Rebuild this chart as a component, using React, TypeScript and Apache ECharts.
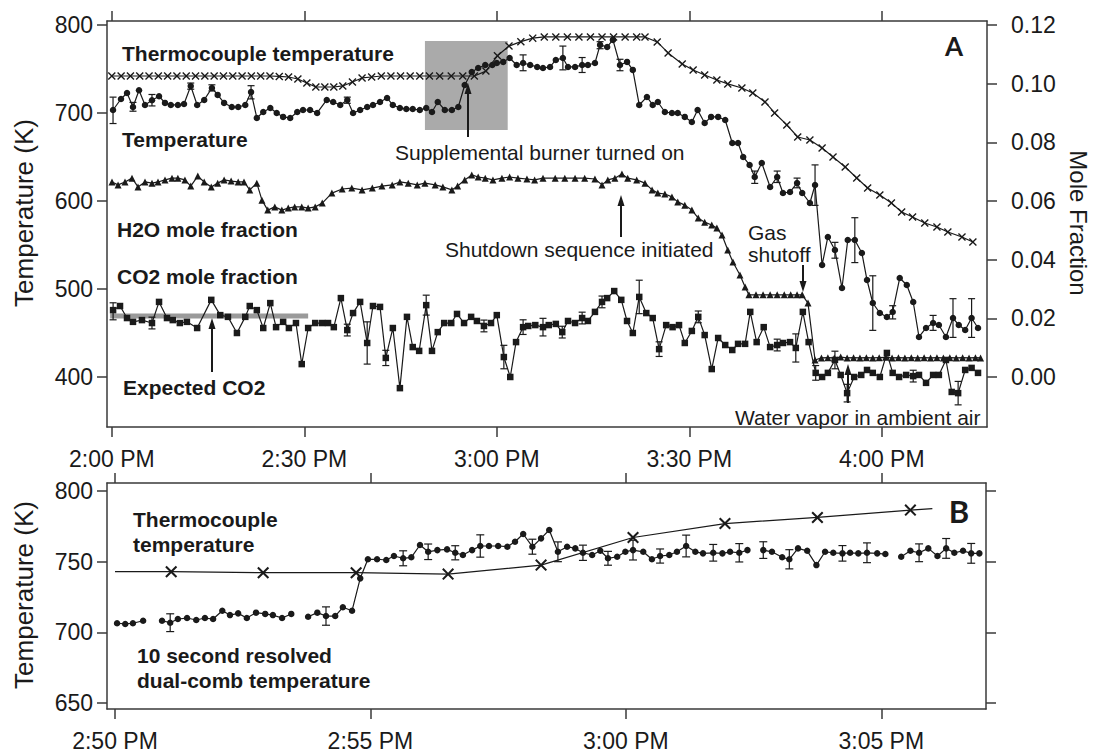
import React, { useEffect, useRef } from "react";
import * as echarts from "echarts";

// ---------- tick values ----------
const xTicksA = [0, 30, 60, 90, 120]; // minutes after 2:00 PM
const yTicksALeft = [400, 500, 600, 700, 800];
const yTicksARight = [0, 0.02, 0.04, 0.06, 0.08, 0.1, 0.12];
const xTicksB = [0, 5, 10, 15]; // minutes after 2:50 PM
const yTicksB = [650, 700, 750, 800];

// ---------- panel A data (t = minutes after 2:00 PM) ----------
const thermoA: number[][] = [
  [0, 742], [1.45, 742], [2.9, 742], [4.35, 742], [5.8, 742], [7.25, 742], [8.7, 742], [10.15, 742],
  [11.6, 742], [13.05, 742], [14.5, 742], [15.95, 742], [17.4, 742], [18.85, 742], [20.3, 742],
  [21.75, 742], [23.2, 742], [24.65, 742], [26.1, 741.5], [27.55, 740.9], [29.0, 738.6], [30.4, 734],
  [31.8, 729.5], [33.2, 729.5], [34.6, 729.5], [36.0, 730.7], [37.5, 735.2], [39.0, 739.8],
  [40.5, 740.9], [42, 742], [43.5, 742], [45, 742], [46.5, 742], [48, 742], [49.5, 742], [51.1, 742],
  [52.9, 742], [54.7, 742], [56.5, 742], [58.3, 747.6], [60.1, 765], [61.9, 776], [63.75, 781],
  [65.6, 785], [67.4, 786.4], [69.2, 786.4], [71.0, 786.4], [72.8, 786.4], [74.6, 786.4], [76.4, 786.4],
  [78.2, 786.4], [80.0, 786.4], [81.8, 786.4], [83.1, 786.4], [85.0, 780.7], [86.7, 768.2],
  [88.9, 755.7], [90.6, 748.9], [92.4, 743.2], [94.3, 737.5], [96.0, 733], [98.2, 728.4],
  [99.9, 722.7], [101.8, 712.5], [103.3, 700], [105.2, 686.4], [106.9, 672.7], [108.8, 669.3],
  [110.7, 660.2], [112.4, 650], [114.3, 638.6], [116.1, 626.1], [117.8, 614.8], [119.7, 606.8],
  [121.5, 597.7], [123.1, 587.5], [124.8, 581.8], [126.7, 575], [128.6, 570.5], [130.3, 564.8],
  [132.5, 559.1], [134.2, 553.4],
];

const tempA: number[][] = [
  [0.19, 703.4], [1.43, 715.9], [2.37, 722.7], [3.3, 706.8], [4.24, 725.8], [5.17, 709.1], [6.26, 714.4],
  [7.36, 719.0], [8.29, 711.4], [9.2, 709.1], [10.3, 709.1], [11.25, 710.2], [12.3, 730.7], [13.3, 709.1],
  [14.4, 714.8], [15.6, 728.4], [16.5, 720.5], [17.5, 711.4], [18.7, 706.8], [19.7, 706.8], [20.8, 709.1],
  [21.7, 723.7], [22.6, 694.3], [23.6, 701.1], [24.7, 705.7], [25.7, 700.0], [26.7, 695.5], [27.8, 694.3],
  [28.9, 701.1], [29.8, 703.4], [30.9, 703.4], [32.0, 700.0], [33.5, 714.8], [34.5, 712.5], [35.6, 709.1],
  [36.7, 714.8], [37.6, 700.0], [38.7, 703.4], [39.8, 706.8], [40.7, 709.1], [41.8, 712.5], [42.9, 717.0],
  [43.8, 709.1], [44.9, 705.7], [45.9, 704.5], [46.9, 704.5], [48.0, 703.4], [49.0, 705.7], [49.9, 701.1],
  [50.8, 712.5], [51.9, 703.4], [53.0, 703.4], [54.0, 706.8], [55.0, 731.8], [56.1, 746.6], [57.1, 751.1],
  [58.2, 754.5], [59.3, 754.5], [60.0, 756.8], [61.0, 758.0], [62.0, 762.5], [63.1, 754.5], [64.1, 756.8],
  [65.2, 754.5], [66.3, 752.3], [67.2, 751.1], [68.3, 752.3], [69.2, 760.2], [70.3, 762.5], [71.1, 752.3],
  [72.2, 752.3], [73.3, 754.5], [74.2, 754.5], [75.3, 756.8], [76.1, 777.3], [77.2, 775.0], [78.1, 783.0],
  [79.2, 754.5], [80.3, 758.0], [81.2, 748.9], [82.2, 709.1], [83.4, 718.2], [84.3, 709.1], [85.1, 712.5],
  [86.2, 701.1], [87.3, 700.0], [88.2, 700.0], [89.3, 695.5], [90.4, 689.8], [91.3, 703.4], [92.4, 688.6],
  [93.4, 695.5], [94.5, 695.5], [95.6, 692.0], [96.7, 665.9], [97.6, 665.9], [98.4, 650.0], [99.4, 640.9],
  [100.2, 627.3], [101.3, 643.2], [102.6, 615.9], [103.7, 627.3], [104.6, 609.1], [105.7, 610.2],
  [106.8, 620.5], [107.6, 609.1], [108.8, 597.7], [109.6, 618.2], [110.7, 527.3], [111.6, 559.1],
  [112.7, 544.3], [113.8, 501.1], [114.7, 555.7], [115.8, 555.7], [116.9, 540.9], [117.7, 510.2],
  [118.6, 484.1], [119.7, 472.7], [120.8, 468.2], [121.7, 473.9], [122.8, 512.5], [123.9, 504.5],
  [124.9, 485.2], [125.8, 445.5], [126.9, 455.7], [128.0, 461.4], [128.9, 459.1], [130.0, 445.5],
  [131.1, 467.0], [132.0, 459.1], [133.0, 453.4], [134.0, 467.0], [135.0, 455.7],
];

// [t, low, high]
const tempAErr: number[][] = [
  [0.19, 688, 718], [3.3, 702, 712], [6.26, 708, 721], [12.3, 727, 734], [15.6, 725, 732],
  [21.7, 716, 731], [36.7, 711, 718], [64.1, 748, 766], [70.3, 749, 776], [73.3, 746, 763],
  [76.1, 773, 781], [79.2, 748, 761], [100.2, 620, 634], [103.7, 621, 634], [106.8, 615, 626],
  [109.6, 595, 641], [112.7, 535, 553], [115.8, 530, 581], [118.6, 453, 515], [121.7, 466, 481],
  [128.0, 453, 470], [131.1, 445, 489], [134.0, 445, 489],
];

const h2oA: number[][] = [
  [0.03, 0.0665], [0.97, 0.0655], [2.06, 0.0665], [3.15, 0.0678], [4.08, 0.0648], [5.17, 0.0665],
  [6.26, 0.0661], [7.2, 0.0665], [8.29, 0.0672], [9.38, 0.0678], [10.3, 0.0678], [11.4, 0.0672],
  [12.3, 0.0651], [13.4, 0.0685], [14.4, 0.0665], [15.5, 0.0648], [16.5, 0.0661], [17.5, 0.0672],
  [18.6, 0.0668], [19.7, 0.0665], [20.6, 0.0665], [21.5, 0.0638], [22.6, 0.0661], [23.4, 0.0603],
  [24.3, 0.0569], [25.4, 0.058], [26.5, 0.0569], [27.5, 0.0576], [28.5, 0.058], [29.6, 0.058],
  [30.6, 0.0576], [31.7, 0.058], [32.8, 0.0593], [34.3, 0.0627], [35.9, 0.0641], [37.4, 0.0644],
  [39.0, 0.0638], [40.6, 0.0644], [42.1, 0.0651], [43.7, 0.0655], [44.9, 0.0665], [46.2, 0.0661],
  [47.6, 0.0655], [48.8, 0.0661], [50.4, 0.0655], [51.6, 0.0648], [53.0, 0.0638], [53.9, 0.0651],
  [55.0, 0.0672], [56.1, 0.0689], [57.1, 0.0682], [58.2, 0.0678], [59.4, 0.0672], [60.8, 0.0678],
  [62.0, 0.0682], [63.3, 0.0678], [64.7, 0.0675], [65.9, 0.0672], [67.2, 0.0678], [69.1, 0.0678],
  [70.6, 0.0678], [72.2, 0.0678], [73.7, 0.0678], [75.3, 0.0675], [76.4, 0.0655], [77.3, 0.0672],
  [78.4, 0.0678], [79.5, 0.0692], [80.4, 0.0678], [81.8, 0.0672], [83.1, 0.0661], [84.2, 0.0638],
  [85.1, 0.0627], [86.2, 0.0624], [87.3, 0.0614], [88.2, 0.0597], [89.3, 0.0586], [90.4, 0.0569],
  [91.4, 0.0542], [92.4, 0.0528], [93.5, 0.0518], [94.3, 0.0508], [95.1, 0.0484], [96.0, 0.0433],
  [96.8, 0.0392], [97.9, 0.0348], [98.7, 0.0307], [99.3, 0.028], [100.4, 0.028], [101.5, 0.028],
  [102.6, 0.028], [103.7, 0.028], [104.8, 0.028], [105.8, 0.028], [106.8, 0.028], [107.6, 0.028],
  [108.5, 0.0252], [109.6, 0.0058], [110.6, 0.0065], [111.6, 0.0066], [112.6, 0.0065], [113.6, 0.0068],
  [114.6, 0.0065], [115.6, 0.0066], [116.6, 0.0065], [117.6, 0.0066], [118.6, 0.0065], [119.6, 0.0066],
  [120.6, 0.0067], [121.6, 0.0065], [122.6, 0.0066], [123.6, 0.0065], [124.6, 0.0066], [125.6, 0.0065],
  [126.6, 0.0066], [127.6, 0.0065], [128.6, 0.0066], [129.6, 0.0065], [130.6, 0.0066], [131.6, 0.0065],
  [132.6, 0.0066], [133.6, 0.0065], [134.6, 0.0066], [135.4, 0.0065],
];

const co2A: number[][] = [
  [0.2, 0.0228], [1.28, 0.0242], [2.37, 0.0201], [3.3, 0.0188], [4.7, 0.0194], [6.26, 0.0184],
  [7.36, 0.0256], [8.6, 0.0201], [9.5, 0.0194], [10.6, 0.0184], [11.7, 0.0188], [13.3, 0.0167],
  [15.5, 0.0263], [16.9, 0.0211], [18.1, 0.0205], [19.5, 0.015], [20.8, 0.0205], [21.5, 0.0242],
  [22.6, 0.0228], [23.6, 0.0167], [24.7, 0.0252], [25.6, 0.017], [26.7, 0.0188], [27.6, 0.0167],
  [28.7, 0.0184], [29.6, 0.0044], [30.6, 0.0167], [31.7, 0.0184], [32.8, 0.0184], [33.7, 0.0184],
  [34.6, 0.017], [35.7, 0.0269], [36.7, 0.016], [37.6, 0.0218], [38.7, 0.0256], [39.8, 0.0116],
  [40.7, 0.0242], [41.8, 0.0239], [42.7, 0.0065], [43.8, 0.0167], [44.9, -0.0038], [46.0, 0.0205],
  [46.9, 0.0102], [47.9, 0.0089], [49.0, 0.0245], [49.9, 0.0089], [50.8, 0.0153], [51.8, 0.0184],
  [52.9, 0.0184], [53.8, 0.0215], [54.9, 0.0184], [56.0, 0.0205], [56.9, 0.0191], [58.0, 0.0174],
  [59.1, 0.0184], [60.0, 0.0211], [61.1, 0.0068], [62.1, 0.0], [63.0, 0.0119], [64.1, 0.017],
  [64.9, 0.0174], [66.0, 0.0177], [67.2, 0.017], [68.1, 0.0177], [69.2, 0.0181], [70.2, 0.0153],
  [71.1, 0.0191], [72.2, 0.0184], [73.3, 0.0201], [74.2, 0.0191], [75.3, 0.0222], [76.4, 0.0256],
  [77.2, 0.0269], [78.3, 0.0293], [79.4, 0.0263], [80.3, 0.0191], [81.2, 0.015], [82.2, 0.0273],
  [83.3, 0.0218], [84.3, 0.0201], [85.3, 0.0095], [86.4, 0.0177], [87.4, 0.017], [88.4, 0.0177],
  [89.3, 0.0116], [90.4, 0.0157], [91.4, 0.0205], [92.4, 0.0143], [93.5, 0.0027], [94.5, 0.0133],
  [95.6, 0.0109], [96.7, 0.0092], [97.6, 0.0113], [98.7, 0.0113], [99.5, 0.0222], [100.5, 0.0119],
  [101.6, 0.017], [102.6, 0.0102], [103.7, 0.0109], [104.6, 0.0116], [105.7, 0.0119], [106.6, 0.0099],
  [107.7, 0.0222], [108.6, 0.0119], [109.7, 0.0014], [110.7, 0.0], [111.6, 0.0014], [112.7, 0.0058],
  [113.6, 0.0007], [114.6, -0.0055], [115.7, 0.0], [116.8, 0.0007], [117.7, 0.0024], [118.6, 0.0014],
  [119.7, 0.0], [120.8, 0.0082], [121.7, 0.0014], [122.7, 0.0], [123.8, 0.0007], [124.9, 0.0003],
  [125.8, 0.0007], [126.9, -0.002], [128.0, 0.0007], [128.9, 0.0007], [130.0, 0.0058], [130.9, -0.0051],
  [131.9, -0.0055], [133.0, 0.0024], [134.0, 0.0031], [135.0, 0.0014],
];

const co2AErr: number[][] = [
  [0.2, 0.0195, 0.0253], [6.26, 0.0164, 0.0204], [36.7, 0.014, 0.018], [39.8, 0.0044, 0.0188],
  [42.7, 0.0039, 0.0091], [49.0, 0.0211, 0.0279], [58.0, 0.0154, 0.0194], [61.1, 0.0028, 0.0108],
  [64.1, 0.0145, 0.0195], [67.2, 0.014, 0.02], [70.2, 0.0133, 0.0173], [73.3, 0.0181, 0.0221],
  [76.4, 0.0236, 0.0276], [82.2, 0.0216, 0.033], [85.3, 0.007, 0.012], [91.4, 0.0185, 0.0225],
  [103.7, 0.0089, 0.0129], [106.6, 0.0051, 0.0147], [109.7, -0.0011, 0.0039], [112.7, 0.0028, 0.0088],
  [114.6, -0.0085, -0.0025], [124.9, -0.0017, 0.0023], [131.9, -0.0095, -0.0015],
];

const expectedCO2: number[][] = [[-0.26, 0.0208], [30.6, 0.0208]];
// [tStart, Klow, tEnd, Khigh]
const burnerWindow: number[][] = [[48.8, 680.7, 61.7, 781.8]];

// ---------- panel B data (t = minutes after 2:50 PM) ----------
const thermoB: number[][] = [
  [0, 742.9], [1.1, 742.9], [2.9, 742.2], [4.72, 742.2], [6.52, 741.2], [8.34, 747.6],
  [10.14, 767.1], [11.94, 777.0], [13.75, 781.3], [15.57, 786.5], [16.0, 787.6],
];

// null marks a gap in the record
const combB: (number[] | null)[] = [
  [0.04, 706.4], [0.2, 705.9], [0.35, 706.4], [0.55, 708.2], null,
  [0.92, 708.2], [1.08, 706.8], [1.23, 709.4], [1.41, 710.1], [1.59, 708.7], [1.76, 710.1], [1.92, 709.4],
  [2.1, 715.3], [2.25, 712.2], [2.41, 713.4], [2.58, 710.1], [2.76, 713.9], [2.94, 713.0], [3.09, 712.2],
  [3.27, 710.1], [3.45, 713.0], null,
  [3.78, 711.0], [3.96, 713.9], [4.13, 711.5], [4.31, 711.5], [4.46, 717.7], [4.64, 715.3], [4.8, 738.2],
  [4.95, 751.7], [5.13, 751.7], [5.31, 751.2], [5.46, 754.0], [5.64, 752.4], [5.8, 753.1], [5.97, 761.8],
  [6.13, 757.0], [6.31, 758.2], [6.5, 758.7], [6.66, 756.3], [6.81, 754.7], [6.99, 758.2], [7.15, 761.1],
  [7.32, 761.1], [7.5, 761.1], [7.68, 760.6], [7.83, 764.1], [7.99, 769.6], [8.17, 760.6], [8.34, 766.5],
  [8.5, 772.4], [8.67, 757.0], [8.85, 760.6], [9.01, 759.4], [9.16, 756.3], [9.34, 754.7], [9.5, 757.7],
  [9.65, 752.4], [9.83, 753.5], [9.99, 757.0], [10.14, 758.2], [10.34, 757.0], [10.51, 751.7],
  [10.67, 754.0], [10.85, 754.7], [11.0, 757.0], [11.18, 761.1], [11.36, 757.0], [11.51, 755.9],
  [11.71, 756.3], [11.89, 755.9], [12.04, 757.0], [12.22, 756.3], [12.38, 758.2], null,
  [12.69, 758.2], [12.86, 757.0], [13.06, 753.1], [13.2, 751.7], [13.37, 759.4], [13.55, 757.7],
  [13.73, 747.6], [13.9, 757.0], [14.06, 756.3], [14.24, 755.9], [14.39, 756.3], [14.55, 755.9],
  [14.72, 756.3], [14.92, 755.9], [15.08, 755.4], null,
  [15.39, 753.5], [15.57, 757.7], [15.74, 756.3], [15.92, 759.4], [16.1, 754.0], [16.27, 759.4],
  [16.43, 756.3], [16.6, 757.7], [16.76, 755.9], [16.92, 755.9],
];

const combBErr: number[][] = [
  [1.08, 700.5, 713.1], [4.13, 705.0, 718.0], [5.64, 747.1, 757.7], [6.13, 751.5, 762.5],
  [6.66, 751.3, 761.3], [7.15, 753.2, 769.0], [8.17, 755.3, 765.9], [8.67, 750.0, 764.0],
  [9.16, 750.9, 761.7], [9.65, 747.5, 757.3], [10.14, 751.2, 765.2], [10.67, 749.0, 759.0],
  [11.18, 753.4, 768.8], [11.71, 750.4, 762.2], [12.22, 749.8, 762.8], [12.69, 752.3, 764.1],
  [13.2, 744.9, 758.5], [14.24, 750.4, 761.4], [14.72, 749.3, 763.3], [15.74, 750.0, 762.6],
  [16.27, 752.4, 766.4], [16.76, 748.9, 762.9],
];

// ---------- helpers ----------
const FONT = "'Liberation Sans', Arial, sans-serif";
const INK = "#1a1a1a";
const AXIS = "#3a3a3a";
const X_SYMBOL = "path://M0,1.2L1.2,0L5,3.8L8.8,0L10,1.2L6.2,5L10,8.8L8.8,10L5,6.2L1.2,10L0,8.8L3.8,5Z";

const fmtTime = (base: number) => (v: number) => {
  const total = Math.round(base + v);
  const h = 2 + Math.floor(total / 60);
  const m = total % 60;
  return `${h}:${String(m).padStart(2, "0")} PM`;
};

function splitSegments(arr: (number[] | null)[]) {
  const segs: number[][][] = [];
  let cur: number[][] = [];
  arr.forEach((p) => {
    if (p === null) {
      if (cur.length) segs.push(cur);
      cur = [];
    } else cur.push(p);
  });
  if (cur.length) segs.push(cur);
  return segs;
}

function axisBase(ticks: number[], showLabel: boolean, extra: any = {}) {
  return {
    type: "value",
    axisLine: { show: true, onZero: false, lineStyle: { color: AXIS, width: 1.5 } },
    splitLine: { show: false },
    axisTick: {
      show: true,
      inside: false,
      length: 10,
      customValues: ticks,
      lineStyle: { color: AXIS, width: 1.5 },
    },
    axisLabel: {
      show: showLabel,
      customValues: ticks,
      fontSize: 23,
      fontFamily: FONT,
      color: INK,
      ...(extra.axisLabel || {}),
    },
  };
}

function errorSeries(data: number[][], xIdx: number, yIdx: number, cap: number) {
  return {
    type: "custom",
    xAxisIndex: xIdx,
    yAxisIndex: yIdx,
    z: 4,
    silent: true,
    data,
    renderItem: (_p: any, api: any) => {
      const x = api.value(0);
      const a = api.coord([x, api.value(1)]);
      const b = api.coord([x, api.value(2)]);
      const st = { stroke: INK, lineWidth: 1.2 };
      return {
        type: "group",
        children: [
          { type: "line", shape: { x1: a[0], y1: a[1], x2: b[0], y2: b[1] }, style: st },
          { type: "line", shape: { x1: a[0] - cap, y1: a[1], x2: a[0] + cap, y2: a[1] }, style: st },
          { type: "line", shape: { x1: b[0] - cap, y1: b[1], x2: b[0] + cap, y2: b[1] }, style: st },
        ],
      };
    },
  };
}

function lineSeries(data: any[], xIdx: number, yIdx: number, symbol: string, size: number, z = 3) {
  return {
    type: "line",
    xAxisIndex: xIdx,
    yAxisIndex: yIdx,
    data,
    symbol,
    symbolSize: size,
    showSymbol: true,
    showAllSymbol: true,
    z,
    lineStyle: { color: INK, width: 1.2 },
    itemStyle: { color: INK, borderWidth: 0 },
    emphasis: { disabled: true },
  };
}

function arrow(x: number, yFrom: number, yTip: number) {
  const dir = yTip < yFrom ? 1 : -1; // 1 means pointing up
  const base = yTip + dir * 11;
  return [
    { type: "line", z: 100, shape: { x1: x, y1: yFrom, x2: x, y2: base }, style: { stroke: INK, lineWidth: 2 } },
    {
      type: "polygon",
      z: 100,
      shape: { points: [[x, yTip], [x - 3.5, base], [x + 3.5, base]] },
      style: { fill: INK },
    },
  ];
}

function label(text: string, x: number, y: number, opts: any = {}) {
  return {
    type: "text",
    z: 100,
    x,
    y,
    rotation: opts.rotation || 0,
    style: {
      text,
      fill: opts.fill || INK,
      font: `${opts.bold ? "bold " : ""}${opts.size || 21}px ${opts.family || FONT}`,
      align: opts.align || "left",
      verticalAlign: "middle",
    },
  };
}

export default function App() {
  const ref = useRef<HTMLDivElement>(null);

  useEffect(() => {
    if (!ref.current) return;
    const chart = echarts.init(ref.current, undefined, { renderer: "svg" });

    const combSegs = splitSegments(combB);
    const thermoBData = thermoB.map((p, i) =>
      i === 0 || i === thermoB.length - 1 ? { value: p, symbol: "none" } : { value: p }
    );

    const option: any = {
      animation: false,
      backgroundColor: "#ffffff",
      grid: [
        { left: 107, top: 21, width: 880, height: 406 },
        { left: 107, top: 483, width: 879, height: 226 },
      ],
      xAxis: [
        {
          ...axisBase(xTicksA, true, { axisLabel: { formatter: fmtTime(0), margin: 20 } }),
          gridIndex: 0, position: "bottom", min: -0.75, max: 136.4,
        },
        { ...axisBase(xTicksA, false), gridIndex: 0, position: "top", min: -0.75, max: 136.4 },
        {
          ...axisBase(xTicksB, true, { axisLabel: { formatter: fmtTime(50), margin: 20 } }),
          gridIndex: 1, position: "bottom", min: -0.157, max: 17.05,
        },
        { ...axisBase(xTicksB, false), gridIndex: 1, position: "top", min: -0.157, max: 17.05 },
      ],
      yAxis: [
        {
          ...axisBase(yTicksALeft, true, { axisLabel: { margin: 14, formatter: (v: number) => String(v) } }),
          gridIndex: 0, position: "left", min: 343.2, max: 804.5,
        },
        {
          ...axisBase(yTicksARight, true, { axisLabel: { margin: 24, formatter: (v: number) => v.toFixed(2) } }),
          gridIndex: 0, position: "right", min: -0.01705, max: 0.12138,
        },
        {
          ...axisBase(yTicksB, true, { axisLabel: { margin: 14, formatter: (v: number) => String(v) } }),
          gridIndex: 1, position: "left", min: 645.7, max: 805.7,
        },
        { ...axisBase(yTicksB, false), gridIndex: 1, position: "right", min: 645.7, max: 805.7 },
      ],
      series: [
        {
          type: "custom",
          xAxisIndex: 0,
          yAxisIndex: 0,
          z: 0,
          silent: true,
          data: burnerWindow,
          renderItem: (_p: any, api: any) => {
            const a = api.coord([api.value(0), api.value(3)]);
            const b = api.coord([api.value(2), api.value(1)]);
            return {
              type: "rect",
              shape: { x: a[0], y: a[1], width: b[0] - a[0], height: b[1] - a[1] },
              style: { fill: "#aaaaaa" },
            };
          },
        },
        {
          type: "line",
          xAxisIndex: 0,
          yAxisIndex: 1,
          data: expectedCO2,
          symbol: "none",
          z: 1,
          lineStyle: { color: "#9a9a9a", width: 5 },
          silent: true,
        },
        lineSeries(thermoA, 0, 0, X_SYMBOL, 8),
        lineSeries(tempA, 0, 0, "circle", 6.5),
        errorSeries(tempAErr, 0, 0, 3.5),
        lineSeries(h2oA, 0, 1, "triangle", 7),
        lineSeries(co2A, 0, 1, "rect", 6.5),
        errorSeries(co2AErr, 0, 1, 3.5),
        lineSeries(thermoBData, 2, 2, X_SYMBOL, 12),
        ...combSegs.map((seg) => lineSeries(seg, 2, 2, "circle", 6.5)),
        errorSeries(combBErr, 2, 2, 4),
      ],
      graphic: [
        label("Temperature (K)", 24, 213, { size: 26, rotation: Math.PI / 2, align: "center" }),
        label("Temperature (K)", 24, 595, { size: 26, rotation: Math.PI / 2, align: "center" }),
        label("Mole Fraction", 1078, 223, { size: 24, rotation: -Math.PI / 2, align: "center" }),
        label("Thermocouple temperature", 122, 53, { bold: true }),
        label("Temperature", 122, 139, { bold: true }),
        label("H2O mole fraction", 117, 229, { bold: true }),
        label("CO2 mole fraction", 117, 276, { bold: true }),
        label("Expected CO2", 123, 387, { bold: true }),
        label("Supplemental burner turned on", 395, 152),
        label("Shutdown sequence initiated", 445, 249),
        label("Gas", 748, 232),
        label("shutoff", 748, 254),
        label("Water vapor in ambient air", 735, 417),
        label("A", 954, 46, { bold: true, size: 26, family: "Lato, 'Open Sans', sans-serif", align: "center" }),
        label("Thermocouple", 133, 519, { bold: true }),
        label("temperature", 133, 544, { bold: true }),
        label("10 second resolved", 137, 655, { bold: true }),
        label("dual-comb temperature", 137, 680, { bold: true }),
        label("B", 959, 511, { bold: true, size: 31, family: "Lato, 'Open Sans', sans-serif", align: "center" }),
        ...arrow(468, 137, 83),
        ...arrow(621, 237, 195),
        ...arrow(212, 372, 318),
        ...arrow(803, 265, 292),
        ...arrow(848, 403, 364),
      ],
    };

    chart.setOption(option);
    return () => chart.dispose();
  }, []);

  return (
    <div
      ref={ref}
      style={{ position: "fixed", left: 0, top: 0, width: 1096, height: 754, background: "#fff" }}
    />
  );
}
